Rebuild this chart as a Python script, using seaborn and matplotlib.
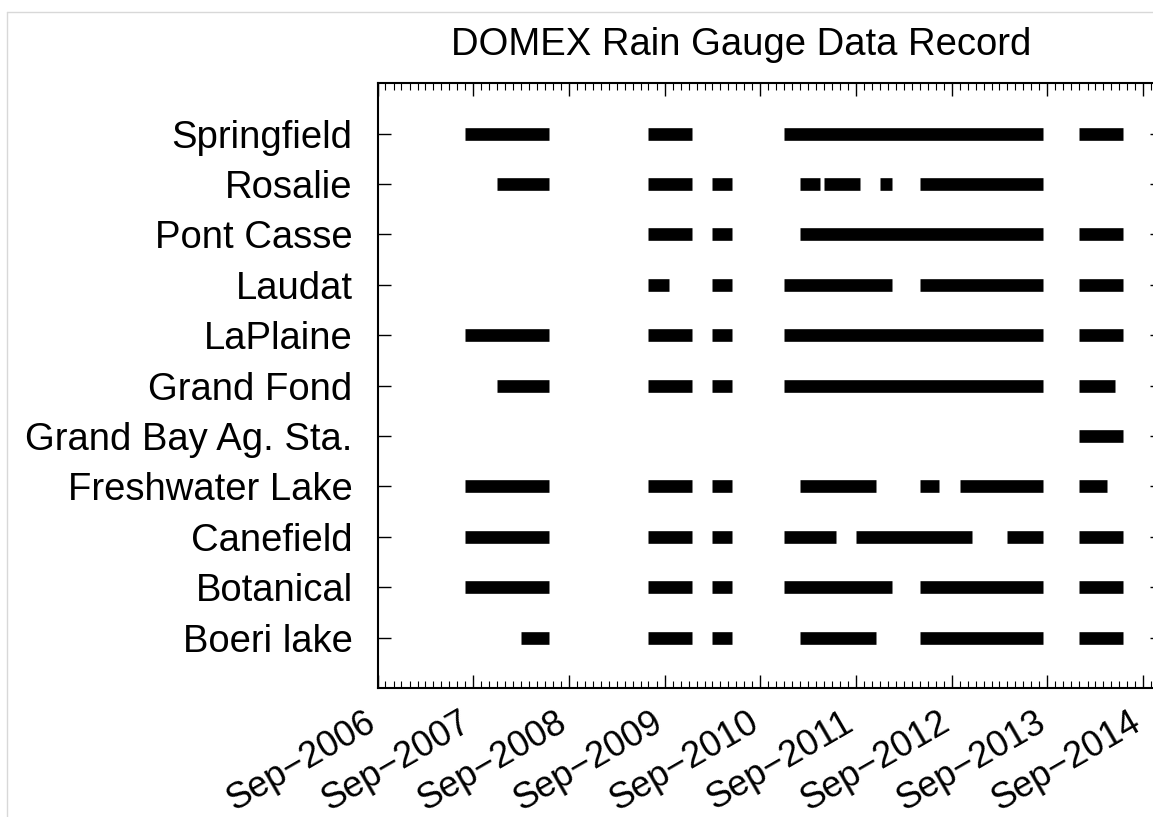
import pandas as pd
import seaborn as sns
import matplotlib.pyplot as plt
import matplotlib.dates as mdates
from matplotlib.lines import Line2D

# station names, bottom to top
stations = ["Boeri lake", "Botanical", "Canefield", "Freshwater Lake",
            "Grand Bay Ag. Sta.", "Grand Fond", "LaPlaine", "Laudat",
            "Pont Casse", "Rosalie", "Springfield"]

# data record periods (start, end) for each station
springfield = [("2007-08-01", "2008-06-15"), ("2009-07-01", "2009-12-15"),
               ("2010-12-01", "2013-08-15"), ("2014-01-01", "2014-06-15")]
rosalie = [("2007-12-01", "2008-06-15"), ("2009-07-01", "2009-12-15"),
           ("2010-03-01", "2010-05-15"), ("2011-02-01", "2011-04-15"),
           ("2011-05-01", "2011-09-15"), ("2011-12-01", "2012-01-15"),
           ("2012-05-01", "2013-08-15")]
pont_casse = [("2009-07-01", "2009-12-15"), ("2010-03-01", "2010-05-15"),
              ("2011-02-01", "2013-08-15"), ("2014-01-01", "2014-06-15")]
laudat = [("2009-07-01", "2009-09-17"), ("2010-03-01", "2010-05-15"),
          ("2010-12-01", "2012-01-15"), ("2012-05-01", "2013-08-15"),
          ("2014-01-01", "2014-06-15")]
laplaine = [("2007-08-01", "2008-06-15"), ("2009-07-01", "2009-12-15"),
            ("2010-03-01", "2010-05-15"), ("2010-12-01", "2013-08-15"),
            ("2014-01-01", "2014-06-15")]
grand_fond = [("2007-12-01", "2008-06-15"), ("2009-07-01", "2009-12-15"),
              ("2010-03-01", "2010-05-15"), ("2010-12-01", "2013-08-15"),
              ("2014-01-01", "2014-05-15")]
grand_bay = [("2014-01-01", "2014-06-15")]
freshwater = [("2007-08-01", "2008-06-15"), ("2009-07-01", "2009-12-15"),
              ("2010-03-01", "2010-05-15"), ("2011-02-01", "2011-11-15"),
              ("2012-05-01", "2012-07-15"), ("2012-10-01", "2013-08-15"),
              ("2014-01-01", "2014-04-15")]
canefield = [("2007-08-01", "2008-06-15"), ("2009-07-01", "2009-12-15"),
             ("2010-03-01", "2010-05-15"), ("2010-12-01", "2011-06-15"),
             ("2011-09-01", "2012-11-18"), ("2013-04-01", "2013-08-15"),
             ("2014-01-01", "2014-06-15")]
botanical = [("2007-08-01", "2008-06-15"), ("2009-07-01", "2009-12-15"),
             ("2010-03-01", "2010-05-15"), ("2010-12-01", "2012-01-15"),
             ("2012-05-01", "2013-08-15"), ("2014-01-01", "2014-06-15")]
boeri = [("2008-03-01", "2008-06-15"), ("2009-07-01", "2009-12-15"),
         ("2010-03-01", "2010-05-15"), ("2011-02-01", "2011-11-15"),
         ("2012-05-01", "2013-08-15"), ("2014-01-01", "2014-06-15")]

periods = [boeri, botanical, canefield, freshwater, grand_bay, grand_fond,
           laplaine, laudat, pont_casse, rosalie, springfield]

rows = []
seg = 0
for pos, (name, segs) in enumerate(zip(stations, periods)):
    for start, end in segs:
        rows.append({"station": name, "pos": pos, "seg": seg, "date": pd.Timestamp(start)})
        rows.append({"station": name, "pos": pos, "seg": seg, "date": pd.Timestamp(end)})
        seg += 1
df = pd.DataFrame(rows)

sns.set_style("ticks")
plt.rcParams["font.family"] = ["Liberation Sans", "DejaVu Sans"]
plt.rcParams["text.color"] = "black"
plt.rcParams["xtick.color"] = "black"
plt.rcParams["ytick.color"] = "black"
plt.rcParams["axes.labelcolor"] = "black"

fig = plt.figure(figsize=(11.53, 8.17), dpi=100)
ax = fig.add_axes([377.6 / 1153, 1 - 688 / 817, (1163 - 377.6) / 1153, (688 - 83.3) / 817])

sns.lineplot(data=df, x="date", y="pos", units="seg", estimator=None,
             color="black", lw=9.1, solid_capstyle="butt", legend=False, ax=ax)

ax.set_xlim(pd.Timestamp("2006-09-01"), pd.Timestamp("2014-11-16"))
ax.set_ylim(-1, 11)
ax.set_yticks(range(len(stations)))
ax.set_yticklabels(stations)
ax.set_xlabel("")
ax.set_ylabel("")

ax.xaxis.set_major_locator(mdates.YearLocator(base=1, month=9, day=1))
ax.xaxis.set_minor_locator(mdates.MonthLocator())
ax.xaxis.set_major_formatter(mdates.DateFormatter("%b\u2212%Y"))

for s in ax.spines.values():
    s.set_linewidth(1.5)
    s.set_color("black")

ax.tick_params(axis="both", which="major", direction="in", length=9.4, width=1,
               top=True, right=True, color="black", labelcolor="black")
ax.tick_params(axis="x", which="minor", direction="in", length=5, width=0.8,
               top=True, bottom=True, color="black")
ax.tick_params(axis="y", which="major", pad=18, labelsize=27.5)
ax.tick_params(axis="x", which="major", pad=29, labelsize=26)
for lab in ax.get_xticklabels():
    lab.set_rotation(30)
    lab.set_ha("right")
    lab.set_va("baseline")
    lab.set_rotation_mode("anchor")

fig.text(741 / 1153, 1 - 45 / 817, "DOMEX Rain Gauge Data Record",
         ha="center", va="center", fontsize=27.5)

# light grey outer frame
fig.add_artist(Line2D([7 / 1153, 1], [1 - 12 / 817, 1 - 12 / 817],
                      transform=fig.transFigure, color="#d8d8d8", lw=1))
fig.add_artist(Line2D([7 / 1153, 7 / 1153], [0, 1 - 12 / 817],
                      transform=fig.transFigure, color="#d8d8d8", lw=1))

fig.savefig("out.png", dpi=100)
